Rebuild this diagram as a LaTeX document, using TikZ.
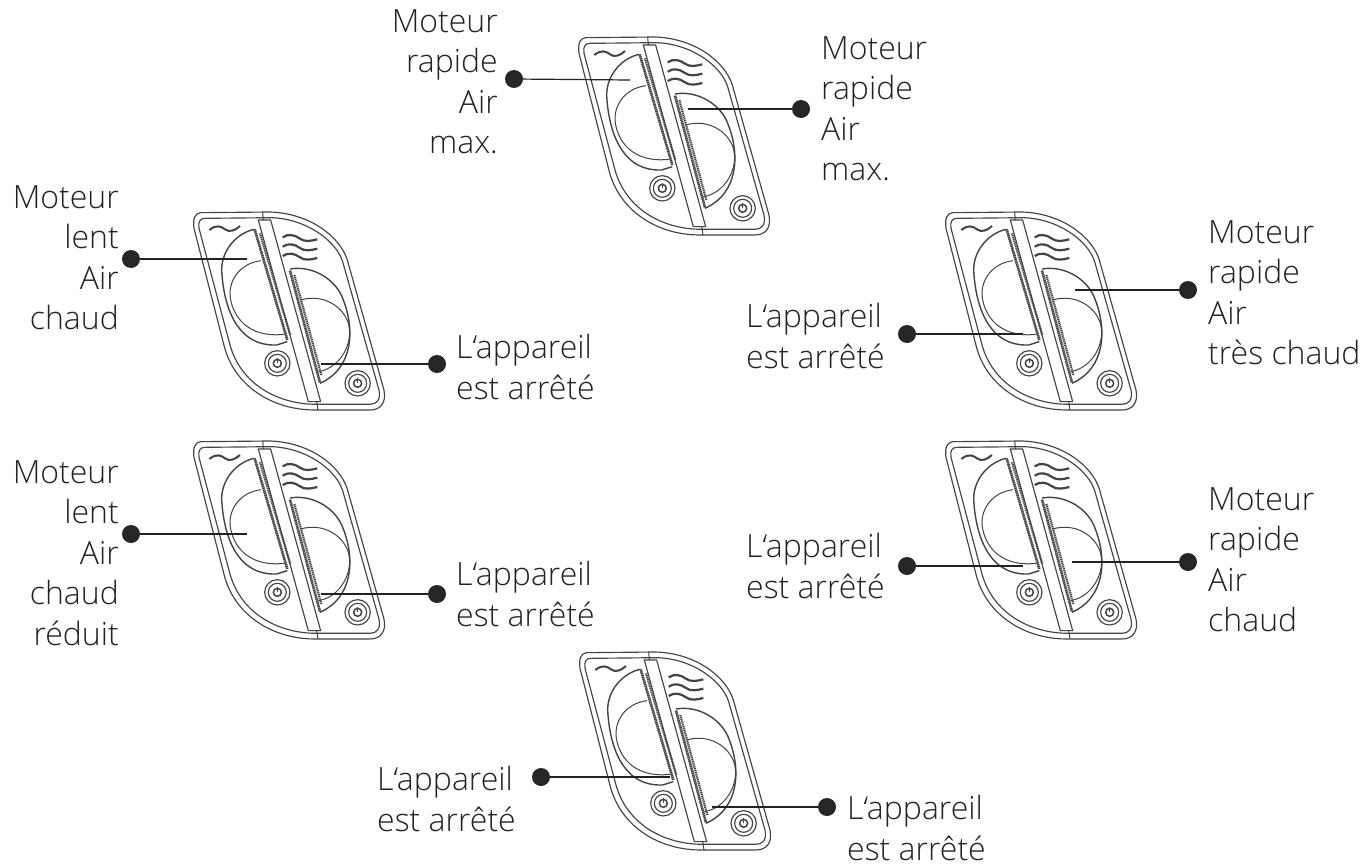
\documentclass[tikz,border=0pt]{standalone}
\usepackage{fontspec}
\setmainfont{Open Sans}[UprightFont=* Light,BoldFont=*]
\definecolor{ink}{HTML}{222222}
\definecolor{draw1}{HTML}{444444}
\tikzset{
  lab/.style={inner sep=0pt,text=ink,font=\fontsize{32}{40.5}\selectfont},
  labl/.style={lab,anchor=north west,align=left},
  labr/.style={lab,anchor=north east,align=right},
  dotn/.style={circle,fill=black!85,draw=none,minimum size=18pt,inner sep=0pt},
  lead/.style={draw=ink,line width=1.2pt},
  shell/.style={draw=draw1,line width=1.15pt},
  thin1/.style={draw=draw1,line width=1pt},
  heater/.pic={
    \begin{scope}[x=0.3333pt,y=-0.3333pt]
    % outlines
    \draw[shell] (62,38) -- (270,36) .. controls (390,40) and (480,110) .. (502,180) -- (612,570) .. controls (620,610) and (600,630) .. (570,630) -- (410,630) .. controls (280,632) and (165,560) .. (133,440) -- (42,85) .. controls (38,55) and (45,40) .. (62,38) -- cycle;
    \draw[shell] (75,55) -- (275,53) .. controls (380,57) and (468,122) .. (488,185) -- (597,570) .. controls (603,600) and (590,613) .. (570,613) -- (410,613) .. controls (290,613) and (182,550) .. (150,435) -- (57,85) .. controls (54,65) and (60,55) .. (75,55) -- cycle;
    % centre strip
    \draw[shell] (235,60) -- (385,605) -- (422,605) -- (272,60) -- cycle;
    \draw[thin1] (248,35) -- (250,60);
    \draw[thin1] (410,605) -- (414,630);
    % left button
    \draw[shell,line width=1.4pt] (222,88) .. controls (170,100) and (125,150) .. (125,210) .. controls (130,310) and (165,440) .. (290,435) -- (322,425);
    \draw[thin1] (243,182) .. controls (180,190) and (148,240) .. (150,285) .. controls (155,345) and (200,415) .. (312,403);
    \draw[draw1,line width=2.6pt,dash pattern=on 1.4pt off 0.5pt] (224,88) -- (322,420);
    \draw[draw1,line width=2.2pt,dash pattern=on 1.2pt off 0.7pt] (240,100) -- (331,405);
    % right button
    \draw[shell,line width=1.4pt] (330,207) .. controls (400,195) and (470,240) .. (490,300) .. controls (525,390) and (520,505) .. (420,550);
    \draw[thin1] (362,300) .. controls (430,280) and (490,320) .. (505,370) .. controls (522,430) and (480,505) .. (415,515);
    \draw[draw1,line width=2.6pt,dash pattern=on 1.4pt off 0.5pt] (330,212) -- (420,548);
    \draw[draw1,line width=2.2pt,dash pattern=on 1.2pt off 0.7pt] (343,225) -- (424,525);
    % power buttons
    \foreach \cx/\cy in {292/490,533/550}{
      \draw[shell] (\cx,\cy) circle[radius=38];
      \draw[shell] (\cx,\cy) circle[radius=27];
      \draw[shell,line width=1.5pt] (\cx,\cy) circle[radius=12];
      \draw[shell,line width=1.5pt] (\cx,\cy-16) -- (\cx,\cy-2);
    }
    % waves
    \draw[draw1,line width=2pt] (88,90) .. controls (110,72) and (125,80) .. (135,88) .. controls (148,98) and (165,92) .. (180,78);
    \foreach \d in {0,28,56}{
      \draw[draw1,line width=2.2pt] (308,112+\d) .. controls (325,100+\d) and (345,105+\d) .. (358,115+\d) .. controls (375,128+\d) and (395,122+\d) .. (412,118+\d);
    }
    \end{scope}
  }
}
\begin{document}
\begin{tikzpicture}[x=1pt,y=-1pt]
\useasboundingbox (0,0) rectangle (1365,867);
\fill[white] (0,0) rectangle (1365,867);

\pic at (565,25) {heater};
\pic at (180,200) {heater};
\pic at (180,429) {heater};
\pic at (932,200) {heater};
\pic at (932,429) {heater};
\pic at (566,640) {heater};

% leader dots and ends
\foreach \n/\x/\y/\ex/\ey in {
 a/514/79/630/80, b/801/109/688/109,
 c/131/259/247/259, d/437/364/321/364,
 e/131/534/247/534, f/437/594/321/594,
 g/907/334/1023/334, h/1188/290/1075/290,
 i/907/566/1023/566, j/1188/562/1072/562,
 k/541/777/670/777, l/827/807/712/807}{
  \node[dotn] (\n) at (\x,\y) {};
  \coordinate (\n e) at (\ex,\ey);
  \draw[lead] (\n) -- (\n e);
}

% labels
\node[labr] (ta) at (498,9) {Moteur\\rapide\\Air\\max.};
\node[labl] (tb) at (821,36) {Moteur\\rapide\\Air\\max.};
\node[labr] (tc) at (119,185) {Moteur\\lent\\Air\\chaud};
\node[labl] (td) at (456,334) {L‘appareil\\est arrêté};
\node[labr] (te) at (119,460) {Moteur\\lent\\Air\\chaud\\réduit};
\node[labl] (tf) at (456,561) {L‘appareil\\est arrêté};
\node[labl] (tg) at (746,303) {L‘appareil\\est arrêté};
\node[labl] (th) at (1208,220) {Moteur\\rapide\\Air\\très chaud};
\node[labl] (ti) at (746,533) {L‘appareil\\est arrêté};
\node[labl] (tj) at (1208,487) {Moteur\\rapide\\Air\\chaud};
\node[labl] (tk) at (377,766) {L‘appareil\\est arrêté};
\node[labl] (tl) at (847,795) {L‘appareil\\est arrêté};
\end{tikzpicture}
\end{document}
